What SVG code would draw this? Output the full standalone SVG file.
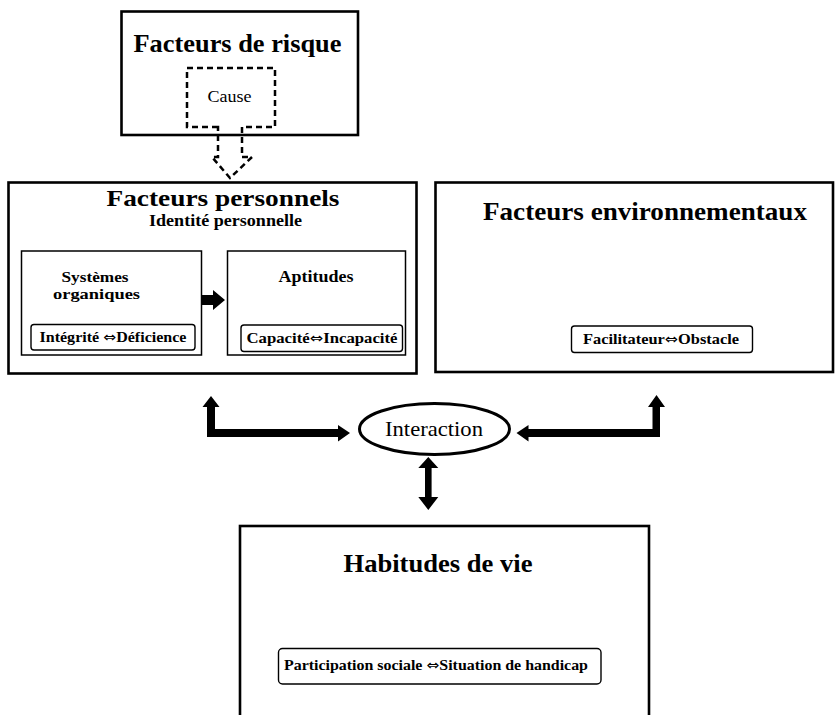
<svg xmlns="http://www.w3.org/2000/svg" width="836" height="715" viewBox="0 0 836 715">
<style>
  .box{fill:#fff;stroke:#000;stroke-width:2.6}
  .sub{fill:#fff;stroke:#000;stroke-width:1.5}
  .pill{fill:#fff;stroke:#000;stroke-width:1.4}
  .t{font-family:"Liberation Serif","DejaVu Serif",serif;fill:#000}
  .b{font-weight:bold}
  .sym{font-family:"DejaVu Sans",sans-serif;font-weight:normal;font-size:14px}
  .arrow{fill:#000;stroke:none}
  .dash{fill:none;stroke:#000;stroke-width:2.5;stroke-dasharray:6 4}
</style>
<rect width="836" height="715" fill="#fff"/>

<g id="facteurs-risque">
  <rect class="box" x="121.5" y="11.5" width="236.5" height="123.5"/>
  <text class="t b" x="237.5" y="52" font-size="25" text-anchor="middle" textLength="208" lengthAdjust="spacingAndGlyphs">Facteurs de risque</text>
</g>

<g id="cause">
  <path class="dash" d="M218,127 H187 V68 H275 V127 H242 V157 H252 L230,178 L212,157 H218 Z"/>
  <text class="t" x="229.5" y="102" font-size="16" text-anchor="middle" textLength="44" lengthAdjust="spacingAndGlyphs">Cause</text>
</g>

<g id="facteurs-personnels">
  <rect class="box" x="8.5" y="182.5" width="408" height="191"/>
  <text class="t b" x="223" y="205.5" font-size="24" text-anchor="middle" textLength="233" lengthAdjust="spacingAndGlyphs">Facteurs  personnels</text>
  <text class="t b" x="225.5" y="226" font-size="17.5" text-anchor="middle" textLength="153" lengthAdjust="spacingAndGlyphs">Identité personnelle</text>
</g>

<g id="systemes-organiques">
  <rect class="sub" x="21.5" y="251" width="180" height="104"/>
  <text class="t b" x="95" y="282" font-size="14.5" text-anchor="middle" textLength="67" lengthAdjust="spacingAndGlyphs">Systèmes</text>
  <text class="t b" x="96.5" y="298.5" font-size="14.5" text-anchor="middle" textLength="87" lengthAdjust="spacingAndGlyphs">organiques</text>
  <rect class="pill" x="31" y="324.5" width="164" height="25.5" rx="3"/>
  <text class="t b" x="113" y="342" font-size="14.5" text-anchor="middle" textLength="147" lengthAdjust="spacingAndGlyphs">Intégrité <tspan class="sym">⇔</tspan>Déficience</text>
</g>

<g id="aptitudes">
  <rect class="sub" x="227.5" y="251" width="178" height="104"/>
  <text class="t b" x="316" y="282" font-size="17" text-anchor="middle" textLength="75" lengthAdjust="spacingAndGlyphs">Aptitudes</text>
  <rect class="pill" x="241" y="325" width="161.5" height="26.5" rx="3"/>
  <text class="t b" x="322" y="342.5" font-size="14.5" text-anchor="middle" textLength="151" lengthAdjust="spacingAndGlyphs">Capacité<tspan class="sym">⇔</tspan>Incapacité</text>
</g>

<g id="facteurs-environnementaux">
  <rect class="box" x="435.5" y="182.5" width="397.5" height="189.5"/>
  <text class="t b" x="645" y="220" font-size="25" text-anchor="middle" textLength="324" lengthAdjust="spacingAndGlyphs">Facteurs  environnementaux</text>
  <rect class="pill" x="571.5" y="326" width="181" height="26.5" rx="3"/>
  <text class="t b" x="661" y="344" font-size="14.5" text-anchor="middle" textLength="156" lengthAdjust="spacingAndGlyphs">Facilitateur<tspan class="sym">⇔</tspan>Obstacle</text>
</g>

<g id="interaction">
  <ellipse cx="434.5" cy="429" rx="75" ry="25.5" fill="#fff" stroke="#000" stroke-width="3"/>
  <text class="t" x="434" y="436" font-size="21" text-anchor="middle" textLength="98" lengthAdjust="spacingAndGlyphs">Interaction</text>
</g>

<g id="habitudes-de-vie">
  <rect class="box" x="240" y="526" width="409" height="230"/>
  <text class="t b" x="438" y="571.5" font-size="26" text-anchor="middle" textLength="189" lengthAdjust="spacingAndGlyphs">Habitudes de vie</text>
  <rect class="pill" x="278.5" y="648.5" width="322.5" height="35.5" rx="4"/>
  <text class="t b" x="436" y="670" font-size="14.5" text-anchor="middle" textLength="304" lengthAdjust="spacingAndGlyphs">Participation sociale <tspan class="sym">⇔</tspan>Situation de handicap</text>
</g>

<g id="connectors">
  <path class="arrow" d="M201.5,295 H213 V290 L225,300 L213,310 V305 H201.5 Z"/>
  <path class="arrow" d="M207,437 V407 H202.5 L211,396 L219.5,407 H215 V429 H338 V425 L350,433 L338,441.5 V437 Z"/>
  <path class="arrow" d="M660,437 V407 H665 L656.5,395 L648,407 H652.5 V429 H528.5 V425 L516.5,433 L528.5,441.5 V437 Z"/>
  <path class="arrow" d="M428.3,457 L438.3,468 H431.6 V497 H438.3 L428.3,510 L418.3,497 H425 V468 H418.3 Z"/>
</g>
</svg>
